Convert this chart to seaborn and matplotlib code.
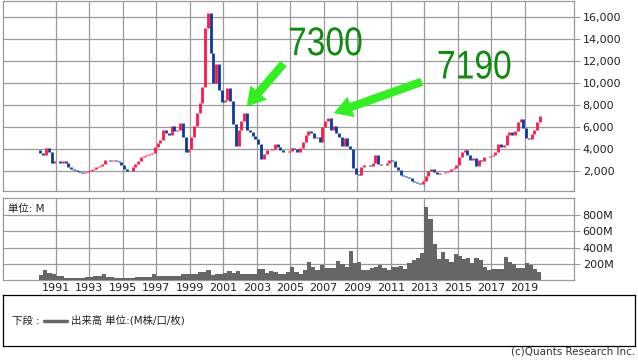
"""
Long-term price chart (bimonthly bars) with volume panel underneath.
"""

import matplotlib
matplotlib.use("Agg")
import matplotlib.pyplot as plt
import matplotlib.transforms as mtransforms
from matplotlib.font_manager import FontProperties
from matplotlib.patches import PathPatch
from matplotlib.textpath import TextPath
import numpy as np
import pandas as pd
import seaborn as sns

# ---- data ----
START_YEAR = 1990
OPEN_1990 = 3900

# bimonthly closes, one row per year 1990..2019
close_by_year = [
    [3700, 3500, 4100, 3800, 2800, 2900],       # 1990
    [2950, 2800, 2900, 2750, 2400, 2250],       # 1991
    [2100, 2050, 1950, 1850, 1950, 2050],       # 1992
    [2100, 2200, 2400, 2450, 2700, 3050],       # 1993
    [3000, 2950, 3050, 2950, 2850, 2600],       # 1994
    [2250, 2000, 2050, 2400, 2650, 2900],       # 1995
    [3300, 3400, 3500, 3600, 3700, 4200],       # 1996
    [4550, 4850, 5800, 5500, 5300, 6100],       # 1997
    [5700, 5800, 6400, 5100, 3800, 4000],       # 1998
    [5100, 6100, 7300, 8200, 9700, 15000],      # 1999
    [16400, 12800, 10000, 11800, 9400, 8300],   # 2000
    [8500, 9600, 8400, 6300, 4300, 5800],       # 2001
    [6600, 7300, 5800, 5600, 5200, 4900],       # 2002
    [4500, 3100, 3600, 3900, 3950, 4000],       # 2003
    [4500, 4200, 3900, 3800, 3800, 3850],       # 2004
    [4100, 4000, 3800, 4100, 4700, 5300],       # 2005
    [5700, 5500, 5000, 5150, 4700, 6000],       # 2006
    [6600, 6900, 5800, 6100, 5500, 5100],       # 2007
    [4300, 5000, 4300, 4000, 2300, 1800],       # 2008
    [1700, 2400, 2550, 2600, 2500, 2800],       # 2009
    [3500, 2700, 2550, 2600, 2800, 3000],       # 2010
    [2900, 2400, 2100, 1700, 1550, 1500],       # 2011
    [1400, 1150, 1000, 900, 870, 1100],         # 2012
    [1550, 2000, 2200, 1950, 1800, 1850],       # 2013
    [1850, 1950, 2000, 2200, 2300, 2600],       # 2014
    [3300, 3800, 3900, 3500, 3050, 3200],       # 2015
    [2500, 3000, 2900, 3300, 3350, 3400],       # 2016
    [3500, 3800, 4500, 4250, 4400, 5300],       # 2017
    [5550, 5300, 5700, 6500, 6800, 5900],       # 2018
    [5000, 4900, 5400, 5800, 6500, 7000],       # 2019
]

# quarterly volume in millions, one row per year 1990..2019
volume_by_year = [
    [60, 120, 90, 70], [45, 55, 30, 28], [25, 25, 30, 35], [35, 45, 50, 70],
    [40, 35, 28, 25], [25, 28, 30, 35], [32, 35, 40, 70], [50, 48, 45, 50],
    [45, 50, 70, 75], [70, 75, 100, 105], [120, 65, 75, 78], [85, 115, 85, 110],
    [78, 75, 75, 78], [140, 135, 85, 110], [105, 78, 78, 100], [165, 100, 75, 120],
    [225, 165, 125, 185], [145, 145, 145, 235], [195, 155, 360, 210], [225, 125, 125, 145],
    [165, 185, 145, 125], [165, 165, 170, 140], [205, 250, 270, 330], [900, 750, 450, 260],
    [340, 255, 225, 320], [295, 260, 270, 205], [270, 245, 165, 125], [130, 130, 130, 290],
    [225, 200, 145, 145], [210, 185, 140, 100],
]

price_ticks = [2000, 4000, 6000, 8000, 10000, 12000, 14000, 16000]
volume_ticks = [200, 400, 600, 800]
year_ticks = list(range(1991, 2021, 2))

callouts = [  # label, text left/baseline, arrow tail, arrow tip  (year, price)
    ("7300", (2004.93, 12570), (2004.6, 11800), (2002.4, 7900)),
    ("7190", (2013.82, 10450), (2012.85, 10150), (2007.6, 7300)),
]

# ---- frames ----
n_years = len(close_by_year)
price = pd.DataFrame({
    "x": [START_YEAR + y + (k + 0.5) / 6 for y in range(n_years) for k in range(6)],
    "close": [c for row in close_by_year for c in row],
})
price["open"] = price["close"].shift(1).fillna(OPEN_1990)
price["up"] = price["close"] >= price["open"]

vol = pd.DataFrame({
    "x": [START_YEAR + y + (k + 0.5) / 4 for y in range(n_years) for k in range(4)],
    "v": [v for row in volume_by_year for v in row],
})
vol_edges = [START_YEAR + i / 4 for i in range(4 * n_years + 1)]

# ---- style ----
sns.set_theme(style="white")
plt.rcParams["font.family"] = ["DejaVu Sans", "Noto Sans CJK JP"]
GRID = "#9a9a9a"
RED, BLUE, VOL = "#ff1848", "#0b3a9e", "#666666"
XLIM = (1987.85, 2021.96)

fig = plt.figure(figsize=(6.38, 3.62), dpi=100)
ax = fig.add_axes([3 / 638, 1 - 190.7 / 362, 571.3 / 638, 189.7 / 362])
axv = fig.add_axes([3 / 638, 1 - 280 / 362, 571.3 / 638, 81.7 / 362])
for a in (ax, axv):
    a.set_xlim(*XLIM)
    a.set_xticks(year_ticks)
    a.grid(True, color=GRID, lw=0.9)
    a.set_axisbelow(True)
    for s in a.spines.values():
        s.set_color(GRID); s.set_linewidth(0.9)
    a.yaxis.tick_right()
    a.tick_params(axis="y", which="both", right=True, length=4, width=0.8, color=GRID,
                  pad=2, labelsize=8, labelcolor="#222222")
    a.tick_params(axis="x", length=0)
    a.set_xlabel(""); a.set_ylabel("")

# price bars: open -> close, red up / blue down
for up, col in ((True, RED), (False, BLUE)):
    d = price[price["up"] == up]
    lo = np.minimum(d["open"], d["close"])
    hi = np.maximum(d["open"], d["close"])
    ax.vlines(d["x"], lo, hi, color=col, lw=2.0, zorder=3)
ax.set_ylim(240, 17500)
ax.set_yticks(price_ticks)
ax.set_yticklabels([f"{t:,}" for t in price_ticks])
ax.tick_params(axis="x", labelbottom=False)

# big callout numbers: condensed sans drawn as a path
num_font = FontProperties(family="Liberation Sans")
for label, anchor, tail, tip in callouts:
    ax.annotate("", xy=tip, xytext=tail, zorder=5,
                arrowprops=dict(arrowstyle="simple,head_length=1.1,head_width=1.3,tail_width=0.5",
                                color="#33ee22", lw=0, shrinkA=0, shrinkB=0))
    px, py = ax.transData.transform(anchor)
    tp = TextPath((0, 0), label, size=40, prop=num_font)
    fig.add_artist(PathPatch(tp, color="#118a11", lw=0, zorder=6,
                             transform=mtransforms.Affine2D().scale(0.84, 1.0).translate(px - 1, py)))

# volume
sns.histplot(data=vol, x="x", weights="v", bins=vol_edges, ax=axv, color=VOL,
             alpha=1, linewidth=0, element="bars", zorder=3)
axv.set_xlim(*XLIM)
axv.set_ylim(0, 1010)
axv.set_yticks(volume_ticks)
axv.set_yticklabels([f"{t}M" for t in volume_ticks])
axv.set_xticklabels([str(y) for y in year_ticks])
axv.tick_params(axis="x", labelsize=8, pad=2, labelcolor="#222222")
axv.set_xlabel(""); axv.set_ylabel("")
axv.text(0.009, 0.865, "単位: M", transform=axv.transAxes, fontsize=7.5,
         va="center", ha="left", color="#222222")

# legend box
lg = fig.add_axes([3 / 638, 1 - 345.7 / 362, 632 / 638, 50.7 / 362])
lg.set_xlim(0, 632); lg.set_ylim(0, 50.7)
lg.set_xticks([]); lg.set_yticks([])
for s in lg.spines.values():
    s.set_color("black"); s.set_linewidth(0.9)
lg.text(9, 25, "下段 :", fontsize=7.5, va="center", ha="left", color="#222222")
lg.plot([41, 64], [25, 25], color=VOL, lw=2.5)
lg.text(68, 25, "出来高 単位:(M株/口/枚)", fontsize=7.5, va="center", ha="left", color="#222222")

fig.text(635 / 638, 1 - 351 / 362, "(c)Quants Research Inc.", fontsize=7.5,
         ha="right", va="center", color="#333333")

fig.savefig("out.png", dpi=100)
